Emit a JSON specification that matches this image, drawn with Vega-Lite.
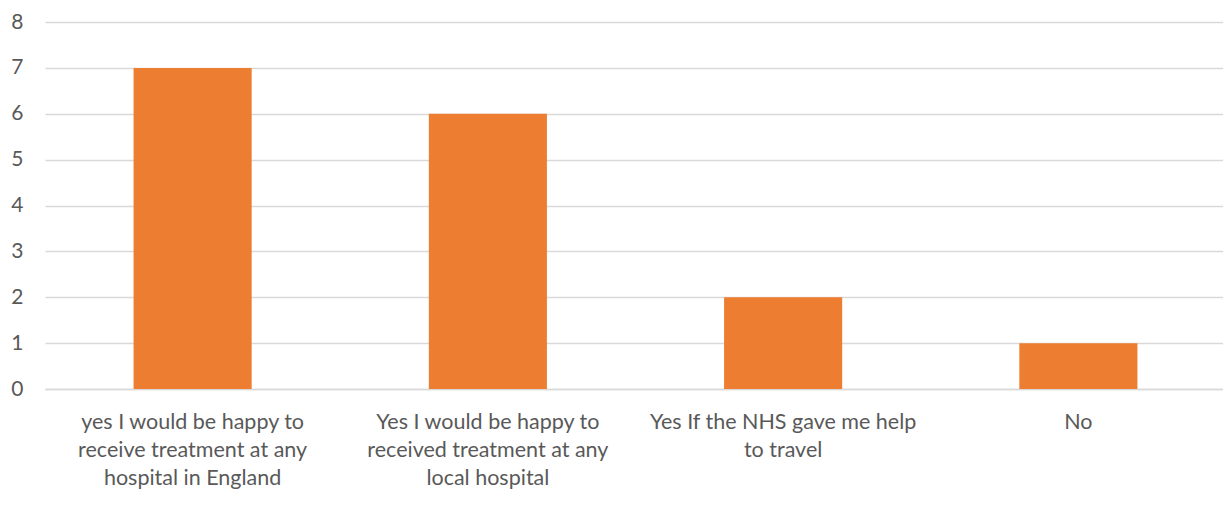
{
  "$schema": "https://vega.github.io/schema/vega-lite/v6.json",
  "autosize": "none",
  "width": 1181,
  "height": 367,
  "padding": {"left": 45, "top": 22, "right": 0, "bottom": 118},
  "background": "white",
  "config": {"view": {"stroke": null}, "font": "Lato"},
  "data": {
    "values": [
      {"answer": "yes I would be happy to|receive treatment at any|hospital in England", "count": 7},
      {"answer": "Yes I would be happy to|received treatment at any|local hospital", "count": 6},
      {"answer": "Yes If the NHS gave me help|to travel", "count": 2},
      {"answer": "No", "count": 1}
    ]
  },
  "mark": {"type": "bar", "color": "#ED7D31"},
  "encoding": {
    "x": {
      "field": "answer",
      "type": "nominal",
      "sort": null,
      "scale": {"paddingInner": 0.6, "paddingOuter": 0.3},
      "axis": {
        "title": null,
        "labelAngle": 0,
        "labelExpr": "split(datum.label, '|')",
        "labelLineHeight": 28,
        "labelFontSize": 21.5,
        "labelColor": "#595959",
        "labelPadding": 22,
        "labelLimit": 400,
        "ticks": false,
        "domainColor": "#d9d9d9",
        "domainWidth": 1.5
      }
    },
    "y": {
      "field": "count",
      "type": "quantitative",
      "scale": {"domain": [0, 8]},
      "axis": {
        "title": null,
        "values": [0,1,2,3,4,5,6,7,8],
        "labelOverlap": false,
        "labelFontSize": 21,
        "labelColor": "#595959",
        "labelPadding": 22,
        "ticks": false,
        "domain": false,
        "gridColor": "#d9d9d9",
        "gridWidth": 1.5
      }
    }
  }
}
